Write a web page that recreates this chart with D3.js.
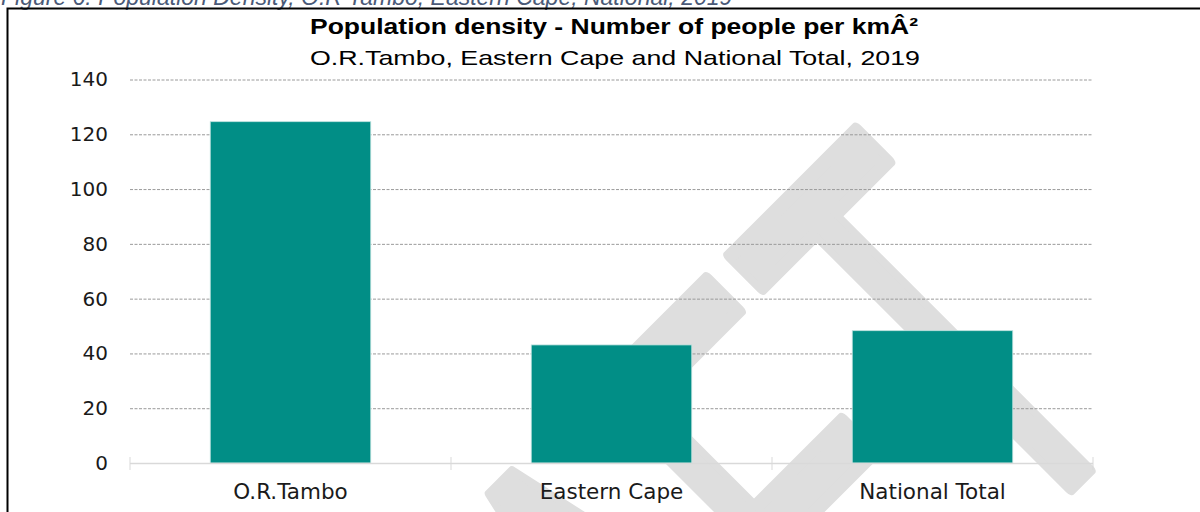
<!DOCTYPE html>
<html>
<head>
<meta charset="utf-8">
<script src="https://cdn.jsdelivr.net/npm/d3@7"></script>
<style>
  html, body { margin: 0; padding: 0; background: #fff; }
  svg { display: block; }
</style>
</head>
<body>
<svg id="chart" width="1200" height="512"></svg>
<script>
// Population density per category (people per km²)
const categories = ["O.R.Tambo", "Eastern Cape", "National Total"];
const densityValues = [124.6, 43.1, 48.3];
const yTicks = [0, 20, 40, 60, 80, 100, 120, 140];
const chartTitle = "Population density - Number of people per kmÂ²";
const chartSubtitle = "O.R.Tambo, Eastern Cape and National Total, 2019";
const figureCaption = "Figure 6: Population Density, O.R Tambo, Eastern Cape, National, 2019";
const watermarkText = "DRAFT";

const rows = categories.map((c, i) => ({ name: c, value: densityValues[i] }));

const svg = d3.select("#chart");
const plot = { left: 130, right: 1093, top: 79.5, bottom: 463 };

const x = d3.scaleBand()
  .domain(categories)
  .range([plot.left, plot.right])
  .paddingInner(0.5)
  .paddingOuter(0.25);

const y = d3.scaleLinear()
  .domain([0, 140])
  .range([plot.bottom, plot.top]);

// Faint diagonal watermark behind the chart
const wm = svg.append("g")
  .attr("transform", "rotate(-45) translate(523.5,1102) scale(0.55,1)")
  .append("text")
  .attr("text-anchor", "end")
  .attr("font-family", "Liberation Sans, Arial, sans-serif")
  .attr("font-size", 588)
  .attr("fill", "#dedede")
  .attr("stroke", "#dedede")
  .attr("stroke-width", 14)
  .attr("stroke-linejoin", "round");
wm.append("tspan").text(watermarkText.slice(0, -1));
wm.append("tspan").attr("dx", 15).text(watermarkText.slice(-1));

// Figure caption above the frame
svg.append("text")
  .attr("x", 1)
  .attr("y", 5)
  .attr("font-family", "Liberation Sans, Arial, sans-serif")
  .attr("font-style", "italic")
  .attr("font-size", 23)
  .attr("fill", "#4a5a78")
  .text(figureCaption);

// Chart frame
svg.append("rect")
  .attr("x", 7.5).attr("y", 8.5)
  .attr("width", 1230).attr("height", 600)
  .attr("fill", "none")
  .attr("stroke", "#000")
  .attr("stroke-width", 2);

// Titles
svg.append("text")
  .attr("x", 614).attr("y", 34)
  .attr("text-anchor", "middle")
  .attr("font-family", "Liberation Sans, Arial, sans-serif")
  .attr("font-weight", "bold")
  .attr("font-size", 22)
  .attr("fill", "#000")
  .attr("textLength", 608)
  .attr("lengthAdjust", "spacingAndGlyphs")
  .text(chartTitle);

svg.append("text")
  .attr("x", 615).attr("y", 65)
  .attr("text-anchor", "middle")
  .attr("font-family", "Liberation Sans, Arial, sans-serif")
  .attr("font-size", 21)
  .attr("fill", "#000")
  .attr("textLength", 610)
  .attr("lengthAdjust", "spacingAndGlyphs")
  .text(chartSubtitle);

// Gridlines (dotted), skipping the baseline
const yAxisGrid = d3.axisLeft(y)
  .tickValues(yTicks.filter(v => v > 0))
  .tickSize(-(plot.right - plot.left))
  .tickFormat("");

svg.append("g")
  .attr("transform", `translate(${plot.left},0)`)
  .call(yAxisGrid)
  .call(g => g.select(".domain").remove())
  .call(g => g.selectAll(".tick line")
    .attr("stroke", "#9a9a9a")
    .attr("stroke-width", 1)
    .attr("stroke-dasharray", "3,1.5"));

// Y tick labels
const yAxis = d3.axisLeft(y)
  .tickValues(yTicks)
  .tickSize(0)
  .tickPadding(22);

svg.append("g")
  .attr("transform", `translate(${plot.left},0)`)
  .call(yAxis)
  .call(g => g.select(".domain").remove())
  .call(g => g.selectAll(".tick text")
    .attr("font-family", "DejaVu Sans, Verdana, sans-serif")
    .attr("font-size", 20)
    .attr("fill", "#1a1a1a"));

// Bars
svg.append("g")
  .selectAll("rect")
  .data(rows)
  .join("rect")
  .attr("x", d => x(d.name))
  .attr("y", d => y(d.value))
  .attr("width", x.bandwidth())
  .attr("height", d => y(0) - y(d.value))
  .attr("fill", "#018e86")
  .attr("stroke", "#bfe2df")
  .attr("stroke-width", 0.8);

// Category axis with tick marks at band boundaries
const xAxis = d3.axisBottom(x).tickSize(0).tickPadding(21);
const xg = svg.append("g")
  .attr("transform", `translate(0,${plot.bottom})`)
  .call(xAxis);
xg.select(".domain").remove();
xg.selectAll(".tick text")
  .attr("font-family", "DejaVu Sans, Verdana, sans-serif")
  .attr("font-size", 21.5)
  .attr("fill", "#1a1a1a");

const step = x.step();
const boundaries = d3.range(categories.length + 1).map(i => plot.left + i * step);
xg.append("line")
  .attr("x1", plot.left).attr("x2", plot.right)
  .attr("y1", 0.5).attr("y2", 0.5)
  .attr("stroke", "#d9d9d9")
  .attr("stroke-width", 1.5);
xg.selectAll(".boundary")
  .data(boundaries)
  .join("line")
  .attr("class", "boundary")
  .attr("x1", d => d).attr("x2", d => d)
  .attr("y1", -6).attr("y2", 7)
  .attr("stroke", "#d9d9d9")
  .attr("stroke-width", 1);
</script>
</body>
</html>
